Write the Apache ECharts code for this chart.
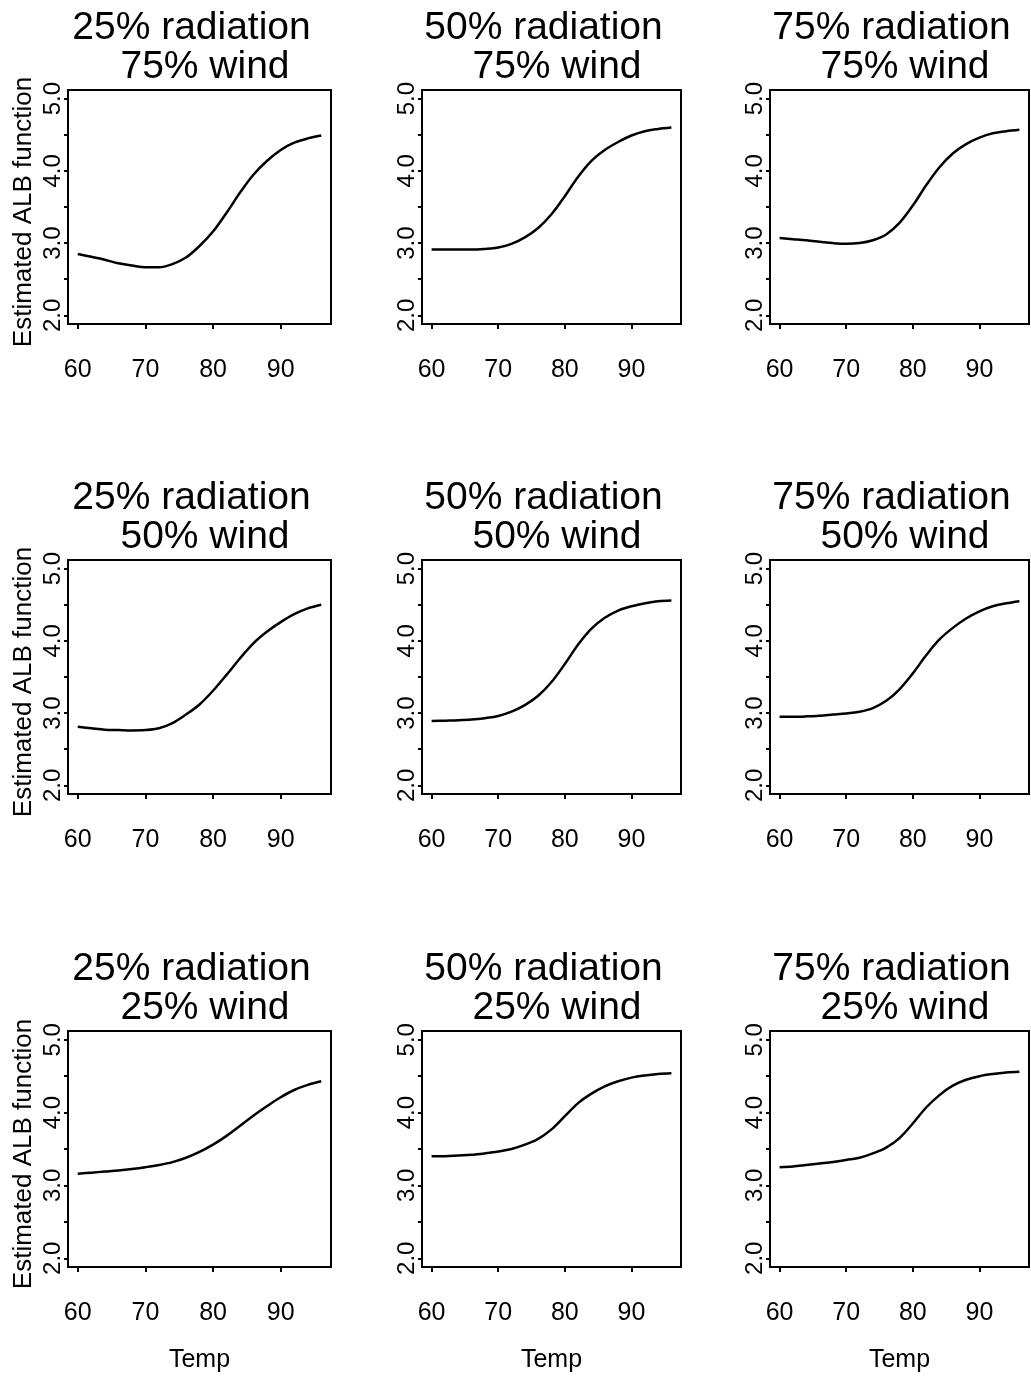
<!DOCTYPE html>
<html><head><meta charset="utf-8">
<script src="https://cdn.jsdelivr.net/npm/echarts@6/dist/echarts.min.js"></script>
<style>html,body{margin:0;padding:0;background:#fff}#c{width:1031px;height:1378px}</style>
</head><body><div id="c"></div>
<script>
// ---- data ----
const temps = [60,62,64,66,68,70,72,74,76,78,80,82,84,86,88,90,92,94,96];
const radiationLabels = ['25% radiation','50% radiation','75% radiation'];
const windLabels = ['75% wind','50% wind','25% wind'];
const xTickValues = [60,70,80,90];
const yTickValues = [2,2.5,3,3.5,4,4.5,5];
const yLabelValues = [2,3,4,5];
const xTitle = 'Temp';
const yTitle = 'Estimated ALB function';

// rows: wind 75%, 50%, 25%; cols: radiation 25%, 50%, 75%
const alb_r25_w75 = [2.85,2.81,2.77,2.72,2.69,2.665,2.665,2.71,2.80,2.96,3.16,3.42,3.70,3.95,4.14,4.29,4.39,4.45,4.49];
const alb_r50_w75 = [2.91,2.91,2.91,2.91,2.92,2.94,2.99,3.08,3.21,3.40,3.65,3.92,4.14,4.29,4.40,4.49,4.55,4.58,4.60];
const alb_r75_w75 = [3.07,3.055,3.04,3.02,3.00,2.99,3.00,3.04,3.12,3.28,3.52,3.80,4.05,4.24,4.37,4.46,4.52,4.55,4.57];
const alb_r25_w50 = [2.81,2.79,2.77,2.765,2.76,2.765,2.79,2.86,2.98,3.12,3.31,3.53,3.76,3.97,4.13,4.26,4.37,4.45,4.50];
const alb_r50_w50 = [2.89,2.895,2.90,2.91,2.93,2.96,3.02,3.11,3.24,3.43,3.68,3.95,4.17,4.32,4.42,4.48,4.52,4.55,4.56];
const alb_r75_w50 = [2.95,2.95,2.955,2.965,2.98,2.995,3.02,3.07,3.17,3.33,3.55,3.80,4.02,4.18,4.31,4.41,4.48,4.52,4.55];
const alb_r25_w25 = [3.16,3.175,3.19,3.205,3.225,3.25,3.28,3.32,3.38,3.46,3.56,3.68,3.82,3.96,4.09,4.21,4.31,4.38,4.43];
const alb_r50_w25 = [3.40,3.40,3.41,3.42,3.44,3.465,3.50,3.56,3.64,3.77,3.95,4.13,4.26,4.36,4.43,4.48,4.51,4.53,4.54];
const alb_r75_w25 = [3.25,3.26,3.28,3.30,3.32,3.35,3.38,3.44,3.52,3.65,3.85,4.07,4.24,4.37,4.45,4.50,4.53,4.55,4.56];

const panels = [
  [alb_r25_w75, alb_r50_w75, alb_r75_w75],
  [alb_r25_w50, alb_r50_w50, alb_r75_w50],
  [alb_r25_w25, alb_r50_w25, alb_r75_w25]
];

// ---- layout ----
const FONT = '"Liberation Sans", Arial, Helvetica, sans-serif';
const colLeft = [68, 422, 770];
const colWidth = [263, 259, 259];
const rowTop = [90, 560, 1031];
const rowHeight = [234, 234, 236];
const X_MIN = 58.56, X_MAX = 97.44, Y_MIN = 1.88, Y_MAX = 5.12;

const grids = [], xAxes = [], yAxes = [], series = [], graphics = [];
for (let r = 0; r < 3; r++) {
  for (let c = 0; c < 3; c++) {
    const i = r * 3 + c;
    grids.push({
      left: colLeft[c], top: rowTop[r], width: colWidth[c], height: rowHeight[r],
      show: true, borderColor: '#000', borderWidth: 2, backgroundColor: 'transparent',
      containLabel: false, outerBoundsMode: 'none'
    });
    xAxes.push({
      type: 'value', gridIndex: i, min: X_MIN, max: X_MAX,
      axisLine: { show: false }, splitLine: { show: false },
      axisTick: { show: true, customValues: xTickValues, length: 5, lineStyle: { color: '#000', width: 2 } },
      axisLabel: { customValues: xTickValues, margin: 34, fontSize: 25, color: '#000', fontFamily: FONT },
      name: r === 2 ? xTitle : '', nameLocation: 'middle', nameGap: 81,
      nameTextStyle: { fontSize: 25, color: '#000', fontFamily: FONT }
    });
    yAxes.push({
      type: 'value', gridIndex: i, min: Y_MIN, max: Y_MAX,
      axisLine: { show: false }, splitLine: { show: false },
      axisTick: { show: true, customValues: yTickValues, length: 4, lineStyle: { color: '#000', width: 2 } },
      axisLabel: { customValues: yLabelValues, rotate: 90, margin: 3, fontSize: 24, color: '#000', fontFamily: FONT,
        formatter: v => Number(v).toFixed(1) },
      name: c === 0 ? yTitle : '', nameLocation: 'middle', nameGap: 31,
      nameTextStyle: { fontSize: 26, color: '#000', fontFamily: FONT, padding: [0, 10, 0, 0] }
    });
    series.push({
      type: 'line', xAxisIndex: i, yAxisIndex: i,
      data: temps.map((t, k) => [t, panels[r][c][k]]),
      showSymbol: false, smooth: 0.35, silent: true,
      lineStyle: { color: '#000', width: 2.5 }
    });
    const cx = colLeft[c] + colWidth[c] / 2;
    graphics.push({
      type: 'text', x: cx - 8, y: rowTop[r] - 61.5,
      style: { text: radiationLabels[c], font: '39px ' + FONT, fill: '#000', align: 'center', verticalAlign: 'middle' }
    });
    graphics.push({
      type: 'text', x: cx + 5.5, y: rowTop[r] - 22.5,
      style: { text: windLabels[r], font: '39px ' + FONT, fill: '#000', align: 'center', verticalAlign: 'middle' }
    });
  }
}

const chart = echarts.init(document.getElementById('c'), null, { renderer: 'canvas' });
chart.setOption({
  animation: false,
  backgroundColor: '#fff',
  grid: grids, xAxis: xAxes, yAxis: yAxes, series: series,
  graphic: graphics
});
</script>
</body></html>
